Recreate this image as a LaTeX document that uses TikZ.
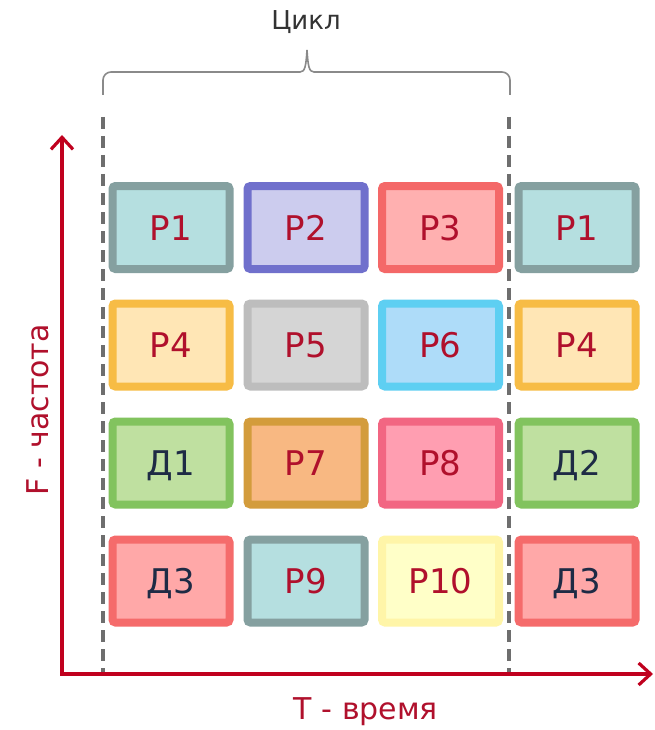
\documentclass[tikz,border=0pt]{standalone}
\usepackage{fontspec}
\setmainfont{DejaVu Sans}
\usetikzlibrary{arrows.meta}
\definecolor{tR}{HTML}{B0102C}
\definecolor{tD}{HTML}{1E2B45}
\definecolor{axisred}{HTML}{C0001E}
\definecolor{dashgray}{HTML}{6E6E6E}
\definecolor{bracegray}{HTML}{8A8A8A}
\definecolor{fA}{HTML}{B5DFE0}\definecolor{dA}{HTML}{85A0A0}
\definecolor{fB}{HTML}{CCCCEE}\definecolor{dB}{HTML}{7070CC}
\definecolor{fC}{HTML}{FFB0B0}\definecolor{dC}{HTML}{F46868}
\definecolor{fD}{HTML}{FFE6B5}\definecolor{dD}{HTML}{F7BC45}
\definecolor{fE}{HTML}{D5D5D5}\definecolor{dE}{HTML}{BDBDBD}
\definecolor{fF}{HTML}{AEDCF9}\definecolor{dF}{HTML}{5ECFF2}
\definecolor{fG}{HTML}{BFE0A0}\definecolor{dG}{HTML}{82C35E}
\definecolor{fH}{HTML}{F8B882}\definecolor{dH}{HTML}{D39C3C}
\definecolor{fI}{HTML}{FF9EB1}\definecolor{dI}{HTML}{F26682}
\definecolor{fJ}{HTML}{FFA8A8}\definecolor{dJ}{HTML}{F56B6B}
\definecolor{fK}{HTML}{FFFFC8}\definecolor{dK}{HTML}{FFF5A8}
\begin{document}
\begin{tikzpicture}[x=1pt,y=-1pt,
  cell/.style={rectangle, line width=8pt, rounded corners=3pt,
    minimum width=117pt, minimum height=83pt, inner sep=0pt,
    text height=25pt, text depth=0pt,
    font=\fontsize{34}{36}\selectfont},
  rc/.style={cell, text=tR},
  dc/.style={cell, text=tD},
  sA/.style={fill=fA, draw=dA}, sB/.style={fill=fB, draw=dB},
  sC/.style={fill=fC, draw=dC}, sD/.style={fill=fD, draw=dD},
  sE/.style={fill=fE, draw=dE}, sF/.style={fill=fF, draw=dF},
  sG/.style={fill=fG, draw=dG}, sH/.style={fill=fH, draw=dH},
  sI/.style={fill=fI, draw=dI}, sJ/.style={fill=fJ, draw=dJ},
  sK/.style={fill=fK, draw=dK},
  axisline/.style={draw=axisred, line width=3.2pt,
    -{Straight Barb[length=12pt,width=22pt,line width=3.2pt]}},
  axislabel/.style={text=tR, font=\fontsize{30}{32}\selectfont},
  cycleline/.style={draw=dashgray, line width=3.5pt, dash pattern=on 12pt off 7pt}]
\useasboundingbox (0,0) rectangle (654,730);
\fill[white] (0,0) rectangle (654,730);

% cycle brace and title
\node[text=black!80, font=\fontsize{26}{28}\selectfont] (title) at (306,22) {Цикл};
\draw[bracegray, line width=1.6pt]
  (103,95) -- (103,80) to[out=90,in=180] (111,72) -- (300,72)
  .. controls (305,72) and (306,66) .. (307,50)
  .. controls (308,66) and (309,72) .. (314,72)
  -- (502,72) to[out=0,in=90] (510,80) -- (510,95);

% cycle boundaries
\coordinate (L1) at (103,117); \coordinate (L2) at (103,674);
\coordinate (R1) at (509,117); \coordinate (R2) at (509,674);
\draw[cycleline] (L1) -- (L2);
\draw[cycleline] (R1) -- (R2);

% cells
\node[rc,sA] (p1)  at (171,227.5) {Р1};
\node[rc,sB] (p2)  at (306,227.5) {Р2};
\node[rc,sC] (p3)  at (440.5,227.5) {Р3};
\node[rc,sA] (p1b) at (577,227.5) {Р1};

\node[rc,sD] (p4)  at (171,345) {Р4};
\node[rc,sE] (p5)  at (306,345) {Р5};
\node[rc,sF] (p6)  at (440.5,345) {Р6};
\node[rc,sD] (p4b) at (577,345) {Р4};

\node[dc,sG] (d1)  at (171,463) {Д1};
\node[rc,sH] (p7)  at (306,463) {Р7};
\node[rc,sI] (p8)  at (440.5,463) {Р8};
\node[dc,sG] (d2)  at (577,463) {Д2};

\node[dc,sJ] (d3)  at (171,581) {Д3};
\node[rc,sA] (p9)  at (306,581) {Р9};
\node[rc,sK] (p10) at (440.5,581) {Р10};
\node[dc,sJ] (d3b) at (577,581) {Д3};

% axes
\coordinate (O) at (62,674);
\coordinate (ytip) at (62,135);
\coordinate (xtip) at (653,674);
\draw[axisline] (O) -- (ytip);
\draw[axisline] ([xshift=-1.6pt]O) -- (xtip);
\node[axislabel] (tlab) at (366,712) {T - время};
\node[axislabel, rotate=90] (flab) at (38,410) {F - частота};
\end{tikzpicture}
\end{document}
